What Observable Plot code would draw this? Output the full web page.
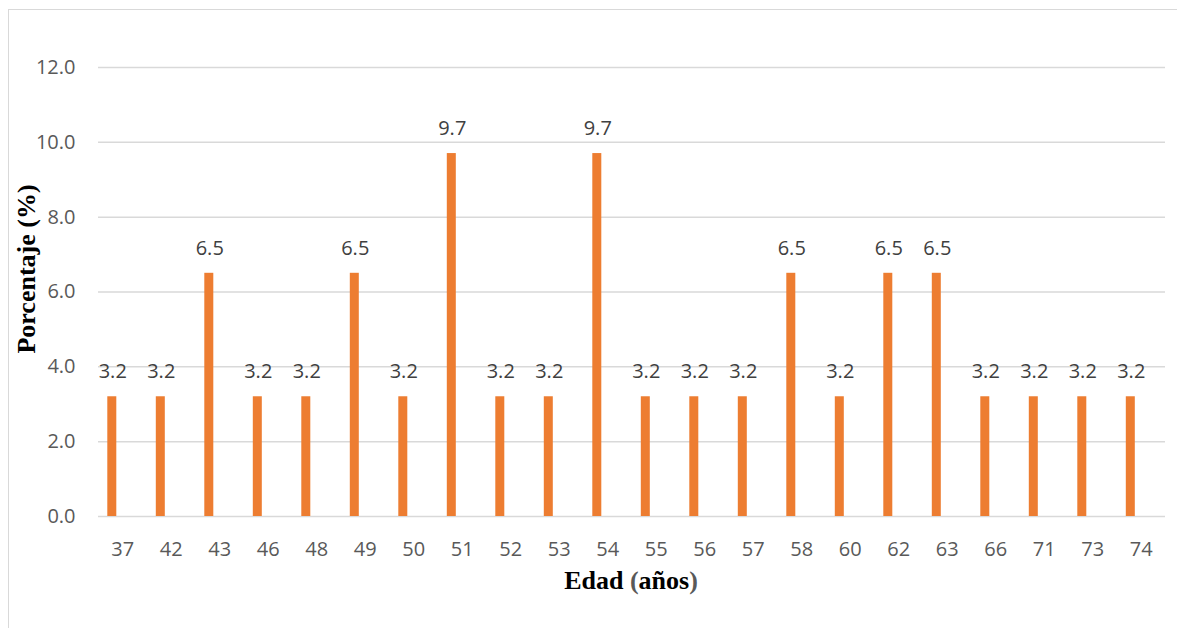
<!DOCTYPE html>
<html>
<head>
<meta charset="utf-8">
<script src="https://cdn.jsdelivr.net/npm/d3@7"></script>
<script src="https://cdn.jsdelivr.net/npm/@observablehq/plot@0.6"></script>
<style>
  html, body { margin: 0; padding: 0; background: #fff; }
  #chart { position: relative; width: 1177px; height: 628px; overflow: hidden; }
  #frame { position: absolute; left: 8px; top: 9px; width: 1300px; height: 700px; border: 1px solid #d9d9d9; box-sizing: border-box; }
  #chart svg { position: absolute; left: 0; top: 0; }
  .axis-title { position: absolute; font-family: "Liberation Serif", "Times New Roman", serif; font-weight: bold; font-size: 26px; line-height: 1; color: #000; white-space: nowrap; }
  .paren { color: #595959; }
  #ytitle { left: 27px; top: 269px; transform: translate(-50%, -50%) rotate(-90deg); }
  #xtitle { left: 631px; top: 581px; transform: translate(-50%, -50%); }
</style>
</head>
<body>
<div id="chart">
  <div id="frame"></div>
  <div id="ytitle" class="axis-title">Porcentaje (%)</div>
  <div id="xtitle" class="axis-title">Edad <span class="paren">(</span>años<span class="paren">)</span></div>
</div>
<script>
// Age groups (years) and the share of people in each (%)
const ages = ["37", "42", "43", "46", "48", "49", "50", "51", "52", "53", "54", "55", "56", "57", "58", "60", "62", "63", "66", "71", "73", "74"];
const percents = [3.2, 3.2, 6.5, 3.2, 3.2, 6.5, 3.2, 9.7, 3.2, 3.2, 9.7, 3.2, 3.2, 3.2, 6.5, 3.2, 6.5, 6.5, 3.2, 3.2, 3.2, 3.2];
const yTicks = [0, 2, 4, 6, 8, 10, 12];

const data = ages.map((age, i) => ({age, pct: percents[i]}));

const font = "'Open Sans', 'Liberation Sans', sans-serif";

const chart = Plot.plot({
  width: 1177,
  height: 628,
  marginLeft: 98,
  marginRight: 12,
  marginTop: 67,
  marginBottom: 112,
  style: {fontFamily: font, fontSize: "20px", background: "transparent"},
  x: {domain: ages, padding: 0, round: false, label: null},
  y: {domain: [0, 12], label: null},
  marks: [
    Plot.gridY(yTicks, {stroke: "#d9d9d9", strokeOpacity: 1, strokeWidth: 1.5}),
    Plot.axisY({ticks: yTicks, tickSize: 0, tickPadding: 23, tickFormat: d => d.toFixed(1), fill: "#595959", fontSize: 20, label: null}),
    Plot.axisX({tickSize: 0, tickPadding: 25, fill: "#595959", fontSize: 20, label: null}),
    // narrow bars sit left of each category centre
    Plot.barY(data, {x: "age", y: "pct", fill: "#ed7d31", insetLeft: 9.3, insetRight: 30.2}),
    Plot.text(data, {x: "age", y: "pct", text: d => d.pct.toFixed(1), dx: -10, dy: -25, fill: "#404040", fontSize: 20})
  ]
});

document.getElementById("chart").appendChild(chart);
</script>
</body>
</html>
